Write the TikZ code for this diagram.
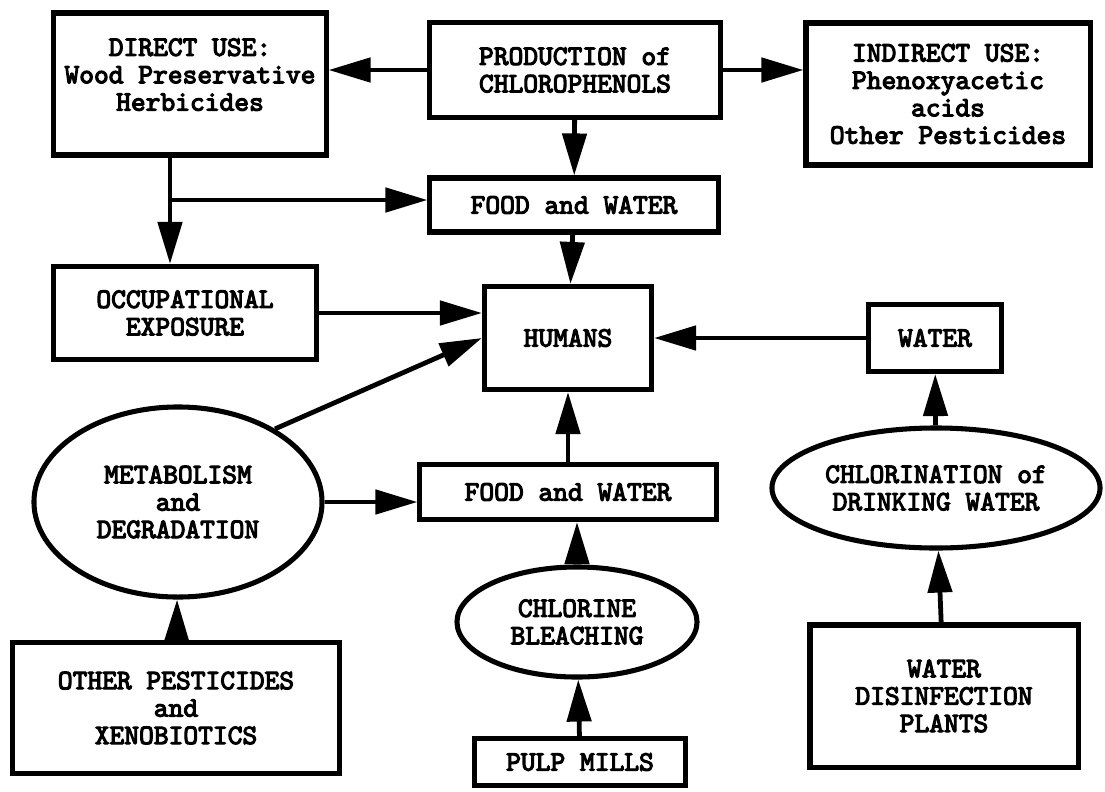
\documentclass[tikz,border=0pt]{standalone}
\usepackage{fontspec}
\setmonofont{lmmono10-regular.otf}[BoldFont=lmmono10-regular.otf,BoldFeatures={FakeBold=4}]
\usetikzlibrary{arrows.meta,shapes.geometric}
\pgfdeclarelayer{bg}
\pgfsetlayers{bg,main}

\begin{document}
\begin{tikzpicture}[x=0.025cm,y=-0.025cm,
        every node/.style={font=\ttfamily\bfseries\fontsize{20}{19.5}\selectfont,align=center,inner sep=0pt},
        box/.style={draw,line width=3.6pt,fill=white},
        oval/.style={draw,ellipse,line width=3.6pt,fill=white},
        arr/.style={line width=3.4pt,-{Triangle[length=1.05cm,width=0.6cm]}}]
        \useasboundingbox (0,0) rectangle (1105,791);
        \node (direct) [box,minimum width=6.8cm,minimum height=3.55cm] at (190,84) {DIRECT USE:\\Wood Preservative\\Herbicides\\[-6pt]\mbox{}};
        \node (prod) [box,minimum width=7.25cm,minimum height=2.375cm] at (575,70) {PRODUCTION of\\CHLOROPHENOLS};
        \node (indirect) [box,minimum width=7.1cm,minimum height=3.55cm] at (948,94) {INDIRECT USE:\\Phenoxyacetic\\acids\\Other Pesticides};
        \node (food1) [box,minimum width=7.2cm,minimum height=1.35cm] at (574,205) {FOOD and WATER};
        \node (occup) [box,minimum width=6.55cm,minimum height=2.325cm] at (185,313) {OCCUPATIONAL\\EXPOSURE};
        \node (humans) [box,minimum width=4.175cm,minimum height=2.575cm] at (568,338) {HUMANS};
        \node (water) [box,minimum width=3.325cm,minimum height=1.675cm] at (935,338) {WATER};
        \node (metab) [oval,minimum width=7.2cm,minimum height=4.75cm] at (178,502) {METABOLISM\\and\\DEGRADATION};
        \node (food2) [box,minimum width=7.4cm,minimum height=1.375cm] at (568,492) {FOOD and WATER};
        \node (chlor) [oval,minimum width=8.2cm,minimum height=3cm] at (936,488) {CHLORINATION of\\DRINKING WATER};
        \node (bleach) [oval,minimum width=6cm,minimum height=2.75cm] at (577,622) {CHLORINE\\BLEACHING};
        \node (other) [box,minimum width=8.175cm,minimum height=3.275cm] at (176,708) {OTHER PESTICIDES\\and\\XENOBIOTICS};
        \node (pulp) [box,minimum width=5.275cm,minimum height=1.175cm] at (580,762) {PULP MILLS};
        \node (disinf) [box,minimum width=6.7cm,minimum height=3.55cm] at (944,696) {WATER\\DISINFECTION\\PLANTS};
        \coordinate (split) at (170,200);
        \begin{pgfonlayer}{bg}
                \draw (prod.west) edge [arr] (prod.west -| direct.east);
                \draw (prod.east) edge [arr] (prod.east -| indirect.west);
                \draw (prod) edge [arr] (food1);
                \draw (food1) edge [arr] (humans);
                \draw [arr] (direct.south -| split) -- (split |- occup.north);
                \draw (split) edge [arr] (split -| food1.west);
                \draw (occup.east) edge [arr] (occup.east -| humans.west);
                \draw (metab.37) edge [arr] (humans.west);
                \draw (metab.east) edge [arr] (metab.east -| food2.west);
                \draw (food2) edge [arr] (humans);
                \draw (water.west) edge [arr] (water.west -| humans.east);
                \draw (chlor) edge [arr] (water);
                \draw (disinf) edge [arr] (chlor);
                \draw (other) edge [arr] (metab);
                \draw (bleach.north) edge [arr] (bleach.north |- food2.south);
                \draw (pulp) edge [arr] (bleach);
        \end{pgfonlayer}
\end{tikzpicture}
\end{document}
